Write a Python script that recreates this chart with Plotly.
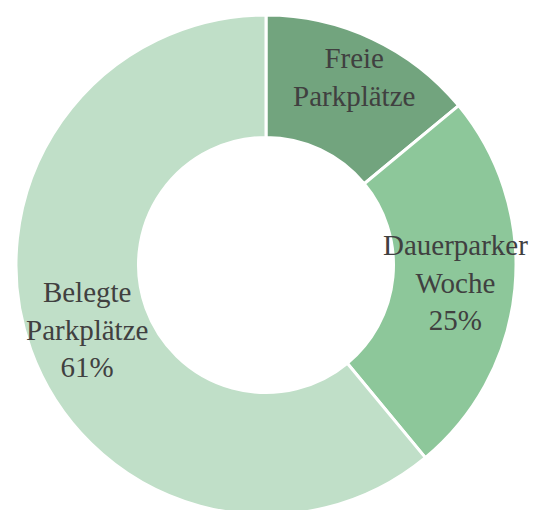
import math
import plotly.graph_objects as go

# slice data
labels = ["Freie Parkplätze", "Dauerparker Woche", "Belegte Parkplätze"]
values = [14, 25, 61]
slice_colors = ["#72A47E", "#8DC79A", "#C0DFC8"]
show_percent = [False, True, True]
# label distance from centre, as a share of the outer radius
label_radius = [0.83, 0.76, 0.76]

fig = go.Figure(
    go.Pie(
        labels=labels,
        values=values,
        hole=0.51,
        sort=False,
        direction="clockwise",
        rotation=0,
        textinfo="none",
        hoverinfo="label+percent",
        marker={"colors": slice_colors, "line": {"color": "white", "width": 3}},
        showlegend=False,
    )
)

# data labels placed at the middle angle of each slice
total = sum(values)
cum = 0
for lab, val, show, rr in zip(labels, values, show_percent, label_radius):
    mid = (cum + val / 2) / total * 2 * math.pi
    cum += val
    txt = lab.replace(" ", "<br>")
    if show:
        txt += f"<br>{round(val / total * 100)}%"
    fig.add_annotation(
        x=0.5 + 0.5 * rr * math.sin(mid),
        y=0.5 + 0.5 * rr * math.cos(mid),
        xref="paper", yref="paper",
        text=txt,
        showarrow=False,
        xanchor="center", yanchor="middle",
        font={"family": "Liberation Serif", "size": 29, "color": "#404040"},
    )

fig.update_layout(
    width=534,
    height=520,
    margin={"l": 16, "r": 18, "t": 15, "b": 5},
    paper_bgcolor="white",
    plot_bgcolor="white",
)

fig.write_html(
    "out.html",
    config={"displayModeBar": False},
    post_script="document.body.style.margin='0';document.body.style.overflow='hidden';",
)
